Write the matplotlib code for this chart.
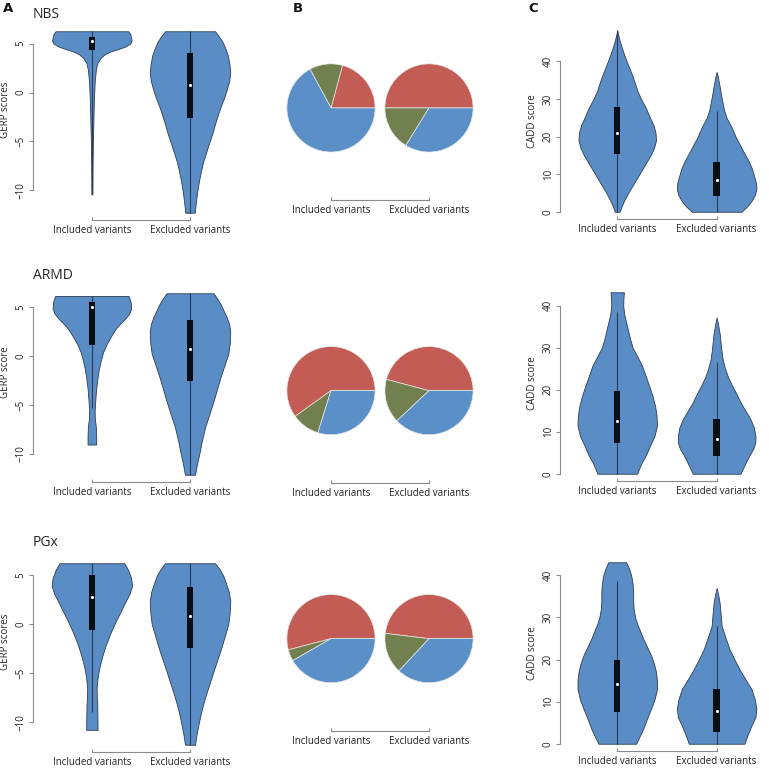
import matplotlib
matplotlib.use('Agg')
import matplotlib.pyplot as plt

plt.rcParams['font.family'] = ['Open Sans', 'DejaVu Sans']

# ---- data ----
groups = ['NBS', 'ARMD', 'PGx']
gerp_ylabels = ['GERP scores', 'GERP score', 'GERP scores']
cadd_ylabel = 'CADD score'
xlabels = ['Included variants', 'Excluded variants']

# violin outlines: score levels (y) and half widths (w, in x units)
gerp_nbs_inc_y = [6.26, 6.0, 5.6, 5.3, 5.0, 4.7, 4.45, 4.2, 3.9, 3.5, 3.0, 2.3, 1.0, -1.0, -3.0, -5.0, -7.5, -10.4]
gerp_nbs_inc_w = [0.37, 0.39, 0.40, 0.405, 0.39, 0.34, 0.27, 0.19, 0.13, 0.085, 0.055, 0.04, 0.028, 0.02, 0.015, 0.01, 0.007, 0.005]
gerp_nbs_exc_y = [6.26, 5.8, 5.2, 4.5, 3.8, 3.0, 2.1, 1.2, 0.3, -0.6, -1.5, -2.4, -3.2, -4.1, -5.0, -6.0, -7.0, -8.0, -9.0, -10.0, -11.1, -12.28]
gerp_nbs_exc_w = [0.255, 0.29, 0.33, 0.36, 0.385, 0.40, 0.41, 0.40, 0.375, 0.345, 0.31, 0.28, 0.255, 0.23, 0.2, 0.168, 0.136, 0.112, 0.092, 0.075, 0.061, 0.048]

gerp_armd_inc_y = [6.1, 5.5, 4.8, 4.3, 3.8, 3.3, 2.8, 2.0, 1.2, 0.4, -0.5, -1.4, -2.2, -3.4, -4.6, -5.6, -6.4, -7.3, -8.2, -9.04]
gerp_armd_inc_w = [0.375, 0.395, 0.40, 0.38, 0.34, 0.29, 0.245, 0.195, 0.15, 0.115, 0.09, 0.07, 0.058, 0.043, 0.034, 0.028, 0.03, 0.041, 0.044, 0.044]
gerp_armd_exc_y = [6.38, 5.8, 5.2, 4.66, 3.9, 3.2, 2.4, 1.3, 0.2, -1.0, -2.2, -3.4, -4.6, -6.0, -7.3, -8.7, -10.1, -11.1, -12.12]
gerp_armd_exc_w = [0.24, 0.28, 0.315, 0.34, 0.375, 0.40, 0.41, 0.405, 0.39, 0.35, 0.31, 0.275, 0.24, 0.195, 0.153, 0.12, 0.092, 0.07, 0.051]

gerp_pgx_inc_y = [6.19, 5.5, 4.7, 3.9, 3.1, 2.37, 1.3, 0.32, -0.9, -2.1, -3.3, -4.5, -5.5, -6.5, -7.3, -8.2, -9.5, -10.78]
gerp_pgx_inc_w = [0.33, 0.37, 0.40, 0.41, 0.385, 0.347, 0.295, 0.245, 0.19, 0.143, 0.105, 0.075, 0.058, 0.048, 0.05, 0.054, 0.057, 0.058]
gerp_pgx_exc_y = [6.19, 5.6, 4.9, 4.2, 3.3, 2.37, 1.2, 0.0, -1.2, -2.4, -3.6, -4.8, -6.2, -7.5, -8.9, -10.3, -11.3, -12.3]
gerp_pgx_exc_w = [0.255, 0.3, 0.34, 0.365, 0.395, 0.41, 0.405, 0.39, 0.355, 0.32, 0.28, 0.24, 0.195, 0.153, 0.115, 0.085, 0.066, 0.051]

cadd_nbs_inc_y = [48.3, 47, 45, 42.5, 40, 38, 36, 34, 32, 30, 27.5, 25, 23, 21, 19, 17, 15, 13, 11, 9, 7, 5, 3, 1.5, 0]
cadd_nbs_inc_w = [0.0, 0.01, 0.03, 0.06, 0.095, 0.125, 0.155, 0.18, 0.205, 0.24, 0.29, 0.33, 0.365, 0.385, 0.39, 0.37, 0.335, 0.29, 0.245, 0.2, 0.155, 0.11, 0.07, 0.045, 0.025]
cadd_nbs_exc_y = [37.2, 36, 34.5, 33, 31, 29, 27, 25, 22.5, 20, 18, 16, 13.6, 11.5, 9.2, 7.5, 6, 4.5, 3, 1.5, 0]
cadd_nbs_exc_w = [0.0, 0.012, 0.022, 0.033, 0.045, 0.06, 0.075, 0.1, 0.15, 0.19, 0.23, 0.27, 0.32, 0.355, 0.38, 0.397, 0.40, 0.385, 0.355, 0.31, 0.25]

cadd_armd_inc_y = [43.2, 41.5, 40, 38, 36, 34, 32, 30, 28, 25.7, 23, 21, 18.5, 16.2, 14, 11.5, 9, 6.7, 4.5, 2.8, 1.2, 0]
cadd_armd_inc_w = [0.067, 0.062, 0.06, 0.07, 0.09, 0.11, 0.13, 0.155, 0.2, 0.25, 0.29, 0.32, 0.355, 0.38, 0.395, 0.40, 0.375, 0.33, 0.29, 0.25, 0.22, 0.2]
cadd_armd_exc_y = [37.2, 35.5, 33, 30, 27.3, 25, 23, 21, 19, 17, 15, 13, 11, 9, 7.5, 6, 4.4, 2.5, 0]
cadd_armd_exc_w = [0.0, 0.015, 0.033, 0.045, 0.06, 0.085, 0.115, 0.155, 0.2, 0.24, 0.29, 0.34, 0.375, 0.39, 0.39, 0.37, 0.33, 0.29, 0.24]

cadd_pgx_inc_y = [43.1, 41.5, 40, 38, 36, 34, 32, 30, 28.5, 26.5, 25, 23, 21, 19, 17, 15, 13, 10.5, 8.3, 6, 3.5, 1.5, 0]
cadd_pgx_inc_w = [0.09, 0.12, 0.14, 0.155, 0.16, 0.16, 0.165, 0.18, 0.2, 0.235, 0.26, 0.3, 0.34, 0.37, 0.39, 0.40, 0.40, 0.375, 0.34, 0.3, 0.26, 0.22, 0.19]
cadd_pgx_exc_y = [37, 35.5, 33.5, 31, 28, 25.5, 22.4, 20, 17.7, 15.3, 13, 10.5, 8.3, 6.3, 4.3, 2, 0]
cadd_pgx_exc_w = [0.0, 0.015, 0.03, 0.04, 0.05, 0.085, 0.13, 0.18, 0.23, 0.29, 0.35, 0.385, 0.40, 0.39, 0.35, 0.31, 0.28]

# box stats: whisker low, q1, median, q3, whisker high
gerp_stats = [
    [[-10.4, 4.3, 5.25, 5.65, 6.26], [-12.28, -2.56, 0.8, 4.0, 6.26]],
    [[-5.3, 1.1, 5.0, 5.5, 6.1], [-12.1, -2.6, 0.7, 3.7, 6.38]],
    [[-9.0, -0.65, 2.75, 4.95, 6.19], [-12.3, -2.4, 0.85, 3.75, 6.19]],
]
cadd_stats = [
    [[0, 15.3, 20.9, 27.9, 48.3], [0, 4.3, 8.5, 13.2, 26.9]],
    [[0, 7.2, 12.5, 19.7, 38.5], [0, 4.2, 8.3, 13.1, 26.7]],
    [[0, 7.5, 14.1, 19.8, 38.6], [0, 2.9, 7.7, 12.9, 28.0]],
]

# pie shares (%): red, green, blue
pie_red = [[20.8, 50.0], [59.9, 45.9], [54.1, 48.1]]
pie_green = [[12.1, 16.2], [10.3, 16.1], [4.2, 15.0]]
pie_blue = [[67.1, 33.8], [29.8, 38.0], [41.7, 36.9]]

gerp_shapes = [
    [(gerp_nbs_inc_y, gerp_nbs_inc_w), (gerp_nbs_exc_y, gerp_nbs_exc_w)],
    [(gerp_armd_inc_y, gerp_armd_inc_w), (gerp_armd_exc_y, gerp_armd_exc_w)],
    [(gerp_pgx_inc_y, gerp_pgx_inc_w), (gerp_pgx_exc_y, gerp_pgx_exc_w)],
]
cadd_shapes = [
    [(cadd_nbs_inc_y, cadd_nbs_inc_w), (cadd_nbs_exc_y, cadd_nbs_exc_w)],
    [(cadd_armd_inc_y, cadd_armd_inc_w), (cadd_armd_exc_y, cadd_armd_exc_w)],
    [(cadd_pgx_inc_y, cadd_pgx_inc_w), (cadd_pgx_exc_y, cadd_pgx_exc_w)],
]

# ---- styling ----
VIOLIN = '#5a8dc6'
EDGE = '#2c3b52'
AXIS = '#8a8a8a'
TXT = '#222222'
PIE_COLORS = ['#c45c56', '#72804f', '#5b8fc8']

W, H = 769, 771
fig = plt.figure(figsize=(W / 100, H / 100), dpi=100)


def px_axes(left, top, width, height):
    return fig.add_axes([left / W, 1 - (top + height) / H, width / W, height / H])


def style_axes(ax, yticks=None, ylabel=None, label_y=0.5):
    for s in ['top', 'right']:
        ax.spines[s].set_visible(False)
    ax.spines['bottom'].set_color(AXIS)
    ax.spines['bottom'].set_linewidth(0.8)
    ax.spines['bottom'].set_bounds(1, 2)
    ax.set_xticks([1, 2])
    ax.set_xticklabels(xlabels, fontsize=7, color=TXT)
    ax.tick_params(axis='x', direction='in', length=2.5, color=AXIS, pad=3.5)
    if yticks is None:
        ax.spines['left'].set_visible(False)
        ax.set_yticks([])
        return
    ax.spines['left'].set_color(AXIS)
    ax.spines['left'].set_linewidth(0.8)
    ax.spines['left'].set_bounds(yticks[0], yticks[-1])
    ax.set_yticks(yticks)
    ax.tick_params(axis='y', direction='out', length=3, color=AXIS,
                   labelsize=7, labelcolor=TXT, pad=1.5)
    for lab in ax.get_yticklabels():
        lab.set_rotation(90)
        lab.set_va('center')
    ax.set_ylabel(ylabel, fontsize=7, color=TXT)
    ax.yaxis.set_label_coords(-0.103, label_y)


def draw_violins(ax, shapes, stats):
    lo, hi = 1e9, -1e9
    for pos, ((ys, ws), st) in enumerate(zip(shapes, stats), start=1):
        ax.fill_betweenx(ys, [pos - w for w in ws], [pos + w for w in ws],
                         facecolor=VIOLIN, edgecolor=EDGE, linewidth=0.6,
                         joinstyle='round', zorder=1)
        ax.vlines(pos, st[0], st[4], color=EDGE, linewidth=0.8, zorder=2)
        ax.bar(pos, st[3] - st[1], bottom=st[1], width=0.065,
               color='#0b0d14', zorder=3)
        ax.scatter([pos], [st[2]], s=5, color='white', zorder=4, linewidths=0)
        lo, hi = min(lo, min(ys)), max(hi, max(ys))
    pad = 0.04 * (hi - lo)
    ax.set_ylim(lo - pad, hi + pad)


row_tops = [24, 286, 556]
row_h = 196
bracket_b = [200, 482.7, 730.7]
title_y = [14, 275, 543]

for r in range(3):
    # column A: GERP
    axA = px_axes(33, row_tops[r], 210, row_h)
    draw_violins(axA, gerp_shapes[r], gerp_stats[r])
    axA.set_xlim(0.4, 2.54)
    style_axes(axA, [-10, -5, 0, 5], gerp_ylabels[r], 0.56)
    fig.text(33 / W, 1 - title_y[r] / H, groups[r], fontsize=10, color=TXT,
             ha='left', va='center')

    # column B: pies
    axB = px_axes(272.2, bracket_b[r] - 190, 215.6, 190)
    for pos in [0, 1]:
        axB.pie([pie_red[r][pos], pie_green[r][pos], pie_blue[r][pos]],
                colors=PIE_COLORS, center=(pos + 1, 0), radius=0.45,
                startangle=0, counterclock=True, frame=True,
                wedgeprops=dict(edgecolor='#e6e6e6', linewidth=0.5))
    axB.set_aspect('auto')
    axB.set_xlim(0.4, 2.6)
    axB.set_ylim(-0.94, 1.0)
    style_axes(axB)

    # column C: CADD
    axC = px_axes(560, row_tops[r] - 1, 209, row_h)
    draw_violins(axC, cadd_shapes[r], cadd_stats[r])
    axC.set_xlim(0.424, 2.527)
    style_axes(axC, [0, 10, 20, 30, 40], cadd_ylabel, 0.5)

for letter, x in zip(['A', 'B', 'C'], [3, 293, 528]):
    fig.text(x / W, 1 - 8 / H, letter, fontsize=9.5, fontweight='bold',
             color='#111111', ha='left', va='center', family='DejaVu Sans')

fig.savefig('out.png', dpi=100)
